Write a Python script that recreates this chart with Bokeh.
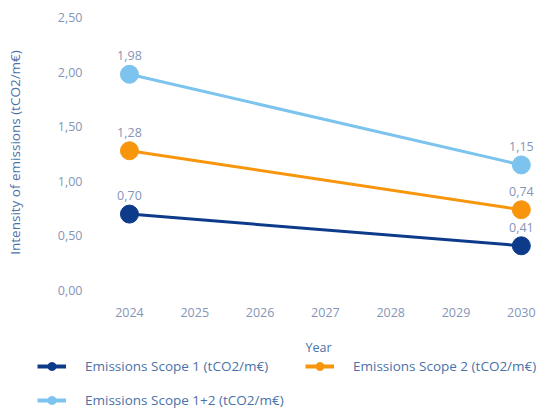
from bokeh.plotting import figure
from bokeh.layouts import column
from bokeh.models import (ColumnDataSource, Legend, LegendItem, CustomJSTickFormatter,
                          Range1d, FixedTicker, Label)
from bokeh.embed import file_html
from bokeh.resources import INLINE

years = [2024, 2030]
scope1 = [0.70, 0.41]
scope2 = [1.28, 0.74]
scope12 = [1.98, 1.15]
series_names = ["Emissions Scope 1 (tCO2/m€)", "Emissions Scope 2 (tCO2/m€)",
                "Emissions Scope 1+2 (tCO2/m€)"]
series_values = [scope1, scope2, scope12]
colors = ["#0d3b8a", "#f7960c", "#7cc3ee"]
x_ticks = [2024, 2025, 2026, 2027, 2028, 2029, 2030]
y_ticks = [0.0, 0.5, 1.0, 1.5, 2.0, 2.5]
x_title = "Year"
y_title = "Intensity of emissions (tCO2/m€)"

FONT = "Open Sans"
TICK_COLOR = "#8595b8"
TITLE_COLOR = "#4a72a8"

P_H = 319
p = figure(width=552, height=P_H, output_backend="svg", toolbar_location=None,
           min_border_left=95, min_border_right=7, min_border_top=10, min_border_bottom=0,
           x_range=Range1d(2023.48, 2030.37), y_range=Range1d(-0.036, 2.564))
p.outline_line_color = None
p.xgrid.grid_line_color = None
p.ygrid.grid_line_color = None

for ax in (p.xaxis[0], p.yaxis[0]):
    ax.axis_line_color = None
    ax.major_tick_line_color = None
    ax.minor_tick_line_color = None
    ax.major_tick_out = 0
    ax.major_tick_in = 0
    ax.minor_tick_out = 0
    ax.major_label_text_font = FONT
    ax.major_label_text_font_size = "12.5px"
    ax.major_label_text_color = TICK_COLOR
    ax.axis_label_text_font = FONT
    ax.axis_label_text_font_style = "normal"
    ax.axis_label_text_font_size = "13.5px"
    ax.axis_label_text_color = TITLE_COLOR

p.xaxis.ticker = FixedTicker(ticks=x_ticks)
p.yaxis.ticker = FixedTicker(ticks=y_ticks)
p.yaxis.formatter = CustomJSTickFormatter(code="return tick.toFixed(2).replace('.', ',');")
p.yaxis.axis_label = y_title
p.xaxis.major_label_standoff = 13
p.yaxis.major_label_standoff = 13
p.yaxis.axis_label_standoff = 31

for name, vals, col in zip(series_names, series_values, colors):
    src = ColumnDataSource(dict(x=years, y=vals,
                                lab=[f"{v:.2f}".replace(".", ",") for v in vals]))
    p.line("x", "y", source=src, line_color=col, line_width=3)
    p.scatter("x", "y", source=src, size=18, fill_color=col, line_color=col)
    p.text("x", "y", text="lab", source=src, text_align="center", text_baseline="bottom",
           y_offset=-14, text_font={"value": FONT}, text_font_size="12.5px",
           text_color=TICK_COLOR)

# strip below the chart: x-axis title and legend
L_H = 408 - P_H
lf = figure(width=552, height=L_H, output_backend="svg", toolbar_location=None,
            min_border=0, x_axis_location=None, y_axis_location=None,
            x_range=Range1d(0, 1), y_range=Range1d(0, 1))
lf.outline_line_color = None
lf.xgrid.grid_line_color = None
lf.ygrid.grid_line_color = None

lf.add_layout(Label(x=318, y=L_H - (347 - P_H), x_units="screen", y_units="screen",
                    text=x_title, text_align="center", text_baseline="middle",
                    text_font=FONT, text_font_size="12.5px", text_color=TITLE_COLOR))

items = []
for name, col in zip(series_names, colors):
    r1 = lf.line([-5, -4], [-5, -4], line_color=col, line_width=4)
    r2 = lf.scatter([-5], [-5], size=7, fill_color=col, line_color=col)
    items.append(LegendItem(label=name, renderers=[r1, r2]))

legend = Legend(items=items, location=(37, -2),
                orientation="horizontal", ncols=2,
                glyph_width=29, glyph_height=20, label_height=20, label_standoff=19,
                label_width=206, spacing=14, padding=0, margin=0,
                label_text_font=FONT, label_text_font_size="13.5px",
                label_text_color=TITLE_COLOR, border_line_alpha=0,
                background_fill_alpha=0)
lf.add_layout(legend, "center")

open("out.html", "w").write(file_html(column(p, column(lf, spacing=0), spacing=0), INLINE))
